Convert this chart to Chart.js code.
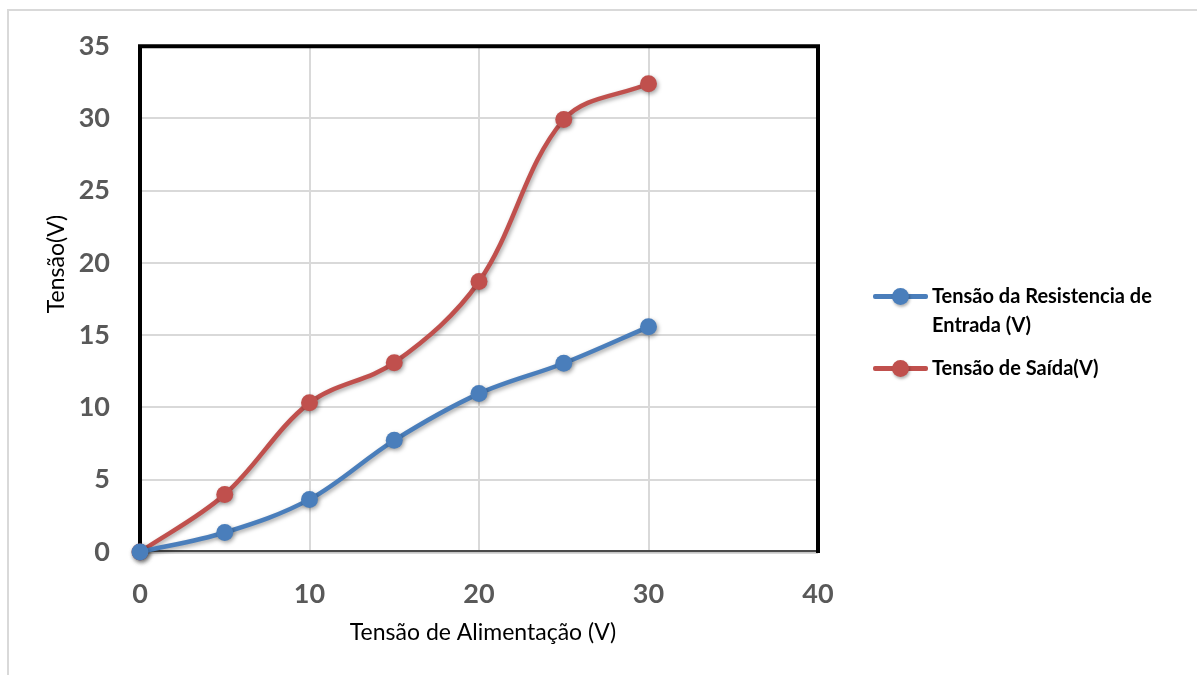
<!DOCTYPE html>
<html>
<head>
<meta charset="utf-8">
<script src="https://cdn.jsdelivr.net/npm/chart.js@4.4.1/dist/chart.umd.min.js"></script>
<style>
  html, body { margin: 0; padding: 0; background: #ffffff; }
  #wrap { position: relative; width: 1197px; height: 675px; overflow: hidden; }
  #c { position: absolute; left: 0; top: 0; }
  #legend { position: absolute; left: 873px; top: 281px; font-family: Lato, "Open Sans", sans-serif; font-weight: bold; font-size: 20px; color: #000; }
  .item { position: relative; margin-bottom: 14px; }
  .sw { position: absolute; left: 0; top: 13px; width: 55px; height: 5px; border-radius: 2px; }
  .dot { position: absolute; left: 19px; top: -6px; width: 17px; height: 17px; border-radius: 50%; box-shadow: 1px 2px 3px rgba(0,0,0,0.3); }
  .txt { margin-left: 59px; width: 260px; line-height: 29px; }
</style>
</head>
<body>
<div id="wrap">
  <canvas id="c" width="1197" height="675"></canvas>
  <div id="legend"></div>
</div>
<script>
// ---- data ----
const xValues = [0, 5, 10, 15, 20, 25, 30];
const entradaValues = [0, 1.35, 3.64, 7.73, 10.96, 13.06, 15.58];
const saidaValues = [0, 3.98, 10.32, 13.1, 18.71, 29.92, 32.4];
const seriesLabels = ['Tensão da Resistencia de Entrada (V)', 'Tensão de Saída(V)'];
const xTicks = [0, 10, 20, 30, 40];
const yTicks = [0, 5, 10, 15, 20, 25, 30, 35];
const xTitle = 'Tensão de Alimentação (V)';
const yTitle = 'Tensão(V)';

const blue = '#4A7EBB';
const red = '#C0504D';

function pts(ys) { return xValues.map((x, i) => ({ x: x, y: ys[i] })); }

const framePlugin = {
  id: 'frame',
  beforeDraw(chart) {
    const ctx = chart.ctx;
    ctx.save();
    ctx.fillStyle = '#ffffff';
    ctx.fillRect(0, 0, chart.width, chart.height);
    ctx.strokeStyle = '#d9d9d9';
    ctx.lineWidth = 2;
    ctx.beginPath();
    ctx.moveTo(7, 10); ctx.lineTo(chart.width, 10);
    ctx.moveTo(8, 9); ctx.lineTo(8, chart.height);
    ctx.stroke();
    ctx.restore();
  },
  beforeDatasetsDraw(chart) {
    const ctx = chart.ctx;
    const a = chart.chartArea;
    ctx.save();
    // bottom axis line
    ctx.strokeStyle = '#4a4a4a';
    ctx.lineWidth = 2;
    ctx.beginPath();
    ctx.moveTo(a.left, a.bottom - 1); ctx.lineTo(a.right, a.bottom - 1);
    ctx.stroke();
    ctx.strokeStyle = '#b0b0b0';
    ctx.lineWidth = 1;
    ctx.beginPath();
    ctx.moveTo(a.left, a.bottom + 1); ctx.lineTo(a.right, a.bottom + 1);
    ctx.stroke();
    // left/top/right border
    ctx.strokeStyle = '#000000';
    ctx.lineWidth = 4;
    ctx.lineJoin = 'miter';
    ctx.beginPath();
    ctx.moveTo(a.left, a.bottom + 1);
    ctx.lineTo(a.left, a.top);
    ctx.lineTo(a.right, a.top);
    ctx.lineTo(a.right, a.bottom + 1);
    ctx.stroke();
    // axis titles
    ctx.fillStyle = '#000000';
    ctx.font = '23px Lato, "Open Sans", sans-serif';
    ctx.textAlign = 'center';
    ctx.textBaseline = 'middle';
    ctx.fillText(xTitle, (a.left + a.right) / 2 + 4, 633);
    ctx.translate(57, 264);
    ctx.rotate(-Math.PI / 2);
    ctx.fillText(yTitle, 0, 0);
    ctx.restore();
    // shadow for series
    ctx.save();
    ctx.shadowColor = 'rgba(0,0,0,0.35)';
    ctx.shadowBlur = 4;
    ctx.shadowOffsetX = 1.5;
    ctx.shadowOffsetY = 2;
  },
  afterDatasetsDraw(chart) {
    chart.ctx.restore();
  }
};

const chart = new Chart(document.getElementById('c'), {
  type: 'line',
  data: {
    datasets: [
      { label: seriesLabels[0], data: pts(entradaValues), borderColor: blue, backgroundColor: blue,
        pointBackgroundColor: blue, pointBorderWidth: 0, pointRadius: 8.5, borderWidth: 4.5, tension: 0.35, clip: false },
      { label: seriesLabels[1], data: pts(saidaValues), borderColor: red, backgroundColor: red,
        pointBackgroundColor: red, pointBorderWidth: 0, pointRadius: 8.5, borderWidth: 4.5, tension: 0.35, clip: false }
    ]
  },
  options: {
    responsive: false,
    animation: false,
    events: [],
    layout: { padding: { top: 42, right: 379, bottom: 0, left: 0 } },
    plugins: { legend: { display: false }, tooltip: { enabled: false } },
    scales: {
      x: {
        type: 'linear', min: 0, max: 40,
        afterBuildTicks(s) { s.ticks = xTicks.map(v => ({ value: v })); },
        afterFit(s) { s.height = 123; },
        grid: { color: '#d9d9d9', lineWidth: 2, drawTicks: false },
        border: { display: false },
        ticks: { padding: 26, color: '#595959', font: { family: 'Lato, "Open Sans", sans-serif', size: 27, weight: 'bold' } }
      },
      y: {
        type: 'linear', min: 0, max: 35,
        afterBuildTicks(s) { s.ticks = yTicks.map(v => ({ value: v })); },
        afterFit(s) { s.width = 140; },
        grid: { color: '#d9d9d9', lineWidth: 2, drawTicks: false },
        border: { display: false },
        ticks: { padding: 30, color: '#595959', font: { family: 'Lato, "Open Sans", sans-serif', size: 27, weight: 'bold' } }
      }
    }
  },
  plugins: [framePlugin]
});

// legend built from datasets
const legend = document.getElementById('legend');
chart.data.datasets.forEach(ds => {
  const item = document.createElement('div');
  item.className = 'item';
  const sw = document.createElement('div'); sw.className = 'sw'; sw.style.background = ds.borderColor;
  const dot = document.createElement('div'); dot.className = 'dot'; dot.style.background = ds.borderColor;
  sw.appendChild(dot);
  const txt = document.createElement('div'); txt.className = 'txt'; txt.textContent = ds.label;
  item.appendChild(sw); item.appendChild(txt);
  legend.appendChild(item);
});
</script>
</body>
</html>
